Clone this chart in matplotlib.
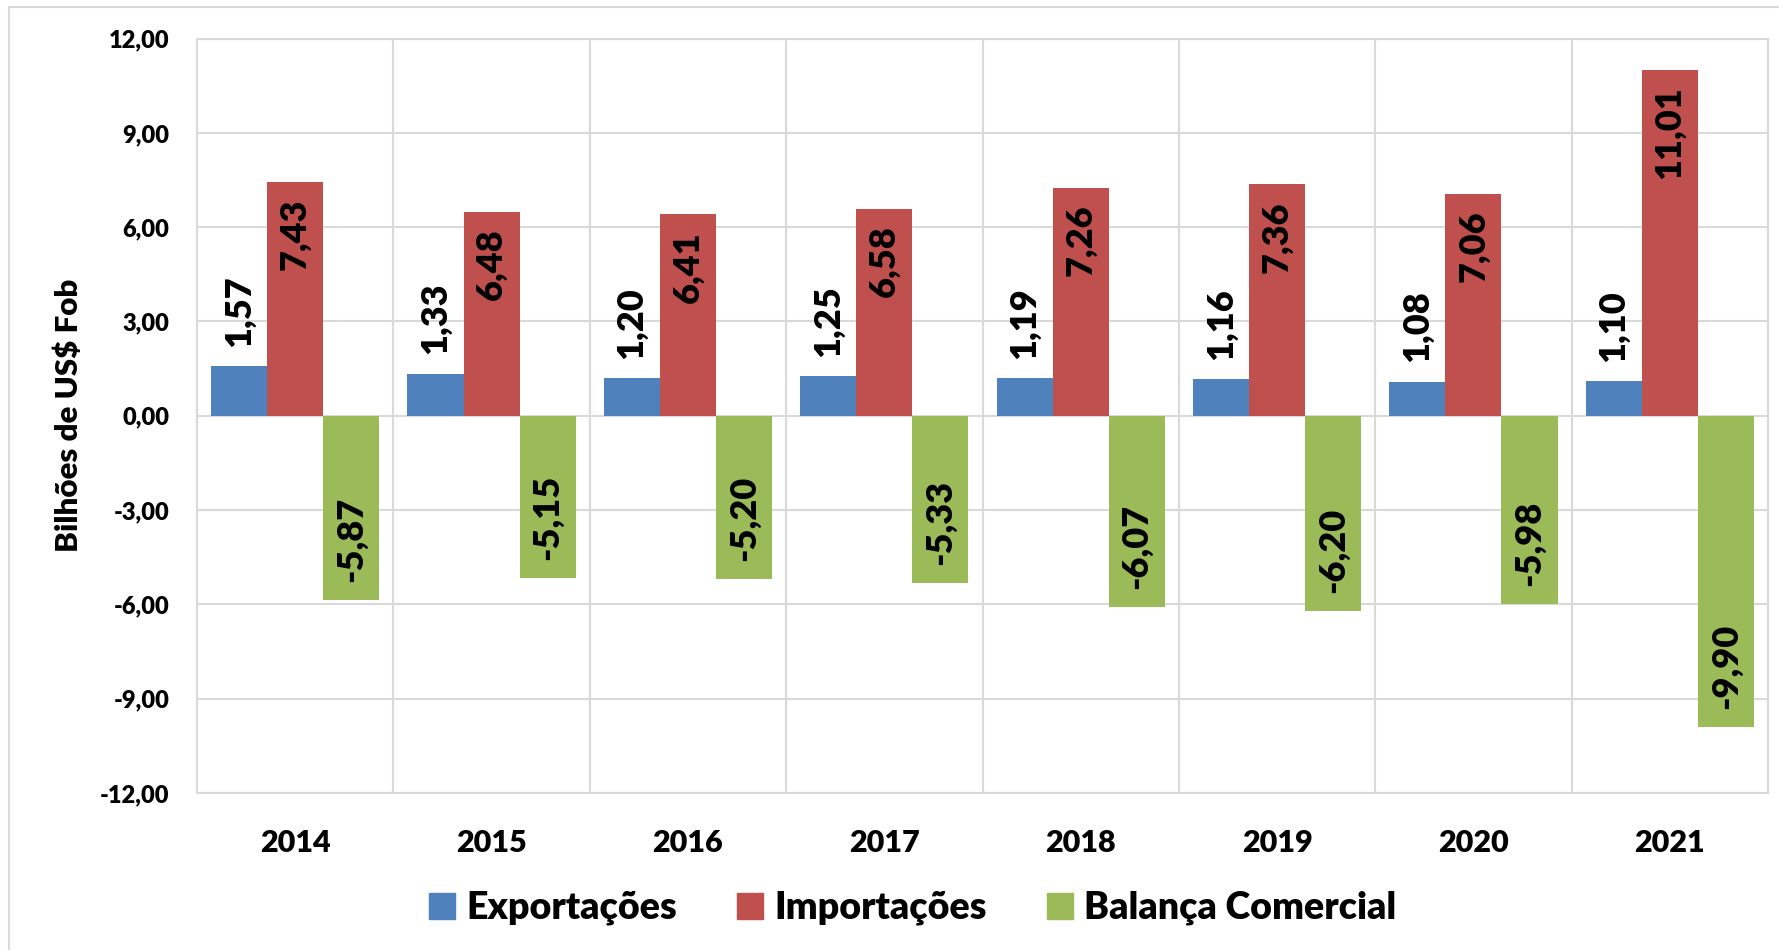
"""Exportações, importações e balança comercial 2014-2021 (bar chart)."""
import matplotlib.pyplot as plt
import numpy as np
from matplotlib.patches import Patch, Rectangle

plt.rcParams["font.family"] = ["Lato", "DejaVu Sans"]
plt.rcParams["font.weight"] = "bold"

years = ["2014", "2015", "2016", "2017", "2018", "2019", "2020", "2021"]
exportacoes = [1.57, 1.33, 1.20, 1.25, 1.19, 1.16, 1.08, 1.10]
importacoes = [7.43, 6.48, 6.41, 6.58, 7.26, 7.36, 7.06, 11.01]
balanca = [-5.87, -5.15, -5.20, -5.33, -6.07, -6.20, -5.98, -9.90]
series_names = ["Exportações", "Importações", "Balança Comercial"]
y_ticks = [-12, -9, -6, -3, 0, 3, 6, 9, 12]

BLUE, RED, GREEN = "#4F81BD", "#C0504D", "#9BBB59"
GRID = "#D9D9D9"


def fmt(v):
    return f"{v:.2f}".replace(".", ",")


fig = plt.figure(figsize=(17.79, 9.5), dpi=100)
ax = fig.add_axes([197 / 1779, 1 - 793 / 950, (1768 - 197) / 1779, (793 - 38.5) / 950])

# outer chart border (Excel chart area)
fig.patches.append(Rectangle((9 / 1779, -0.05), 1.1, 1 - 7 / 950 + 0.05,
                             transform=fig.transFigure, fill=False,
                             edgecolor=GRID, linewidth=1.5))

x = np.arange(len(years))
w = 0.2857
ax.bar(x - w, exportacoes, w, color=BLUE, zorder=2)
ax.bar(x, importacoes, w, color=RED, zorder=2)
ax.bar(x + w, balanca, w, color=GREEN, zorder=2)

lab = dict(rotation=90, ha="center", fontsize=26, fontweight="heavy",
           textcoords="offset points", zorder=3)
for xi, v in zip(x - w, exportacoes):
    ax.annotate(fmt(v), (xi, v), xytext=(0, 14), va="bottom", **lab)
for xi, v in zip(x, importacoes):
    ax.annotate(fmt(v), (xi, v), xytext=(0, -12), va="top", **lab)
for xi, v in zip(x + w, balanca):
    ax.annotate(fmt(v), (xi, v), xytext=(0, 13), va="bottom", **lab)

ax.set_xlim(-0.5, len(years) - 0.5)
ax.set_ylim(-12, 12)
ax.set_yticks(y_ticks)
ax.set_yticklabels([fmt(t) for t in y_ticks], fontsize=17, fontweight="heavy")
ax.set_xticks(x)
ax.set_xticklabels(years, fontsize=22, fontweight="heavy")
ax.set_xticks(np.arange(len(years) + 1) - 0.5, minor=True)
ax.tick_params(axis="both", which="both", length=0)
ax.tick_params(axis="y", pad=20)
ax.tick_params(axis="x", pad=26)
ax.grid(axis="y", which="major", color=GRID, linewidth=1.5, zorder=0)
ax.grid(axis="x", which="minor", color=GRID, linewidth=1.5, zorder=0)
for s in ax.spines.values():
    s.set_color(GRID)
    s.set_linewidth(1.5)
ax.set_ylabel("Bilhões de US$ Fob", fontsize=22.5, fontweight="heavy", labelpad=12)

handles = [Patch(color=c) for c in (BLUE, RED, GREEN)]
fig.legend(handles, series_names, loc="center", bbox_to_anchor=(0.513, 0.044),
           ncol=3, frameon=False, prop={"size": 27, "weight": "heavy"},
           handlelength=0.7, handleheight=0.7, handletextpad=0.3, columnspacing=1.6)

fig.savefig("out.png", dpi=100)
